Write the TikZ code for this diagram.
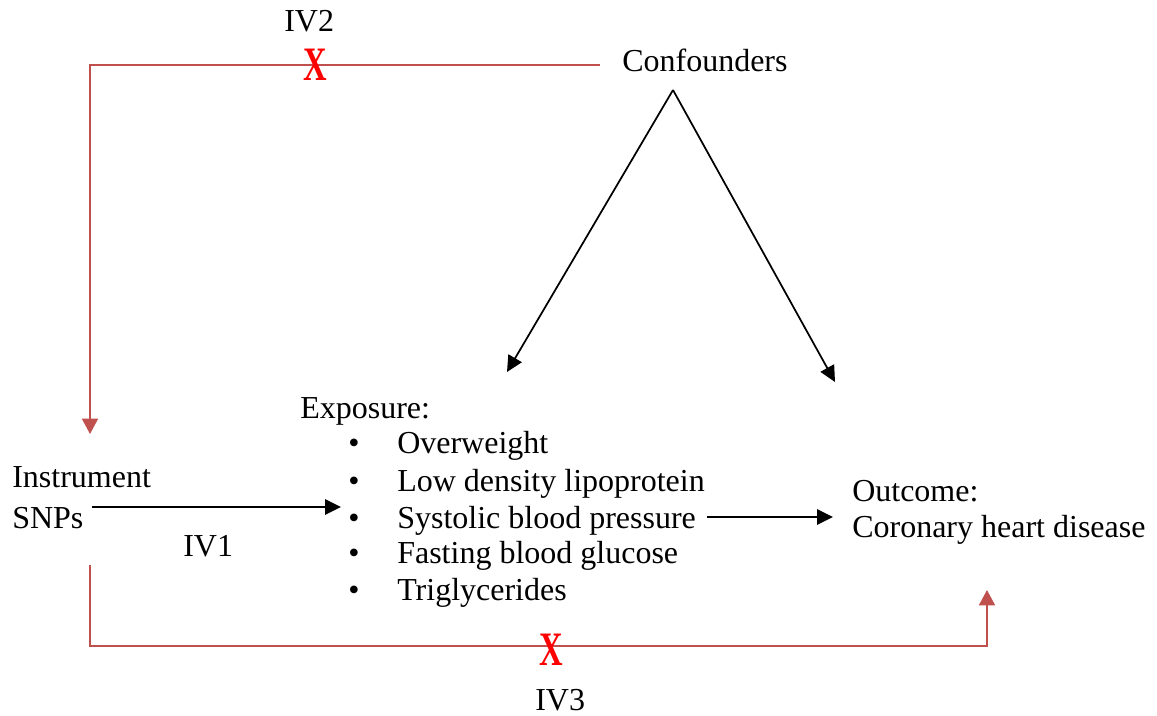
\documentclass[tikz,border=0pt]{standalone}
\usepackage{fontspec}
\setmainfont{Liberation Serif}
\usetikzlibrary{arrows.meta}
\definecolor{pathred}{RGB}{192,80,77}
\definecolor{xred}{RGB}{255,0,0}
\begin{document}
\begin{tikzpicture}[x=0.75pt,y=-0.75pt,
  txt/.style={inner sep=0pt,anchor=base west,font=\fontsize{24}{28}\selectfont},
  xmark/.style={inner sep=0pt,font=\fontsize{36}{38}\selectfont\bfseries,text=xred,xscale=0.68},
  blk/.style={draw=black,line width=1.3pt,-{Triangle[length=12pt,width=11.5pt]}},
  redl/.style={draw=pathred,line width=1.3pt},
  reda/.style={redl,-{Triangle[length=11.5pt,width=12pt]}}]
\useasboundingbox (0,0) rectangle (1157,715);
% texts
\node[txt] (conf) at (622,71) {Confounders};
\node[txt] (iv2) at (284,31) {IV2};
\node[txt] (instr) at (12,487) {Instrument};
\node[txt] (snps) at (12,528) {SNPs};
\node[txt] (iv1) at (183,556) {IV1};
\node[txt] (expo) at (300,418) {Exposure:};
\foreach \yy/\t [count=\i] in {453/Overweight,491/Low density lipoprotein,528/Systolic blood pressure,563/Fasting blood glucose,600/Triglycerides}{
  \node[txt] (b\i) at (348,\yy) {\textbullet};
  \node[txt] (e\i) at (397,\yy) {\t};
}
\node[txt] (outc) at (852,501) {Outcome:};
\node[txt] (chd) at (852,537) {Coronary heart disease};
\node[txt] (iv3) at (535,710) {IV3};
% coordinates
\coordinate (ctop) at (673,90);
\coordinate (cl) at (507,372);
\coordinate (cr) at (835,382);
\coordinate (r1s) at (600,65);
\coordinate (r1c) at (90,65);
\coordinate (r1e) at (90,434);
\coordinate (r2s) at (90,565);
\coordinate (r2c) at (90,646);
\coordinate (r2d) at (987,646);
\coordinate (r2e) at (987,590);
\coordinate (a1s) at (92,507);
\coordinate (a1e) at (341,507);
\coordinate (a2s) at (707,517);
\coordinate (a2e) at (833,517);
% connectors
\draw[blk] (ctop) -- (cl);
\draw[blk] (ctop) -- (cr);
\draw[blk] (a1s) -- (a1e);
\draw[blk] (a2s) -- (a2e);
\draw[reda] (r1s) -- (r1c) -- (r1e);
\draw[reda] (r2s) -- (r2c) -- (r2d) -- (r2e);
\node[xmark] (x1) at (315,65) {X};
\node[xmark] (x2) at (551,650) {X};
\end{tikzpicture}
\end{document}
